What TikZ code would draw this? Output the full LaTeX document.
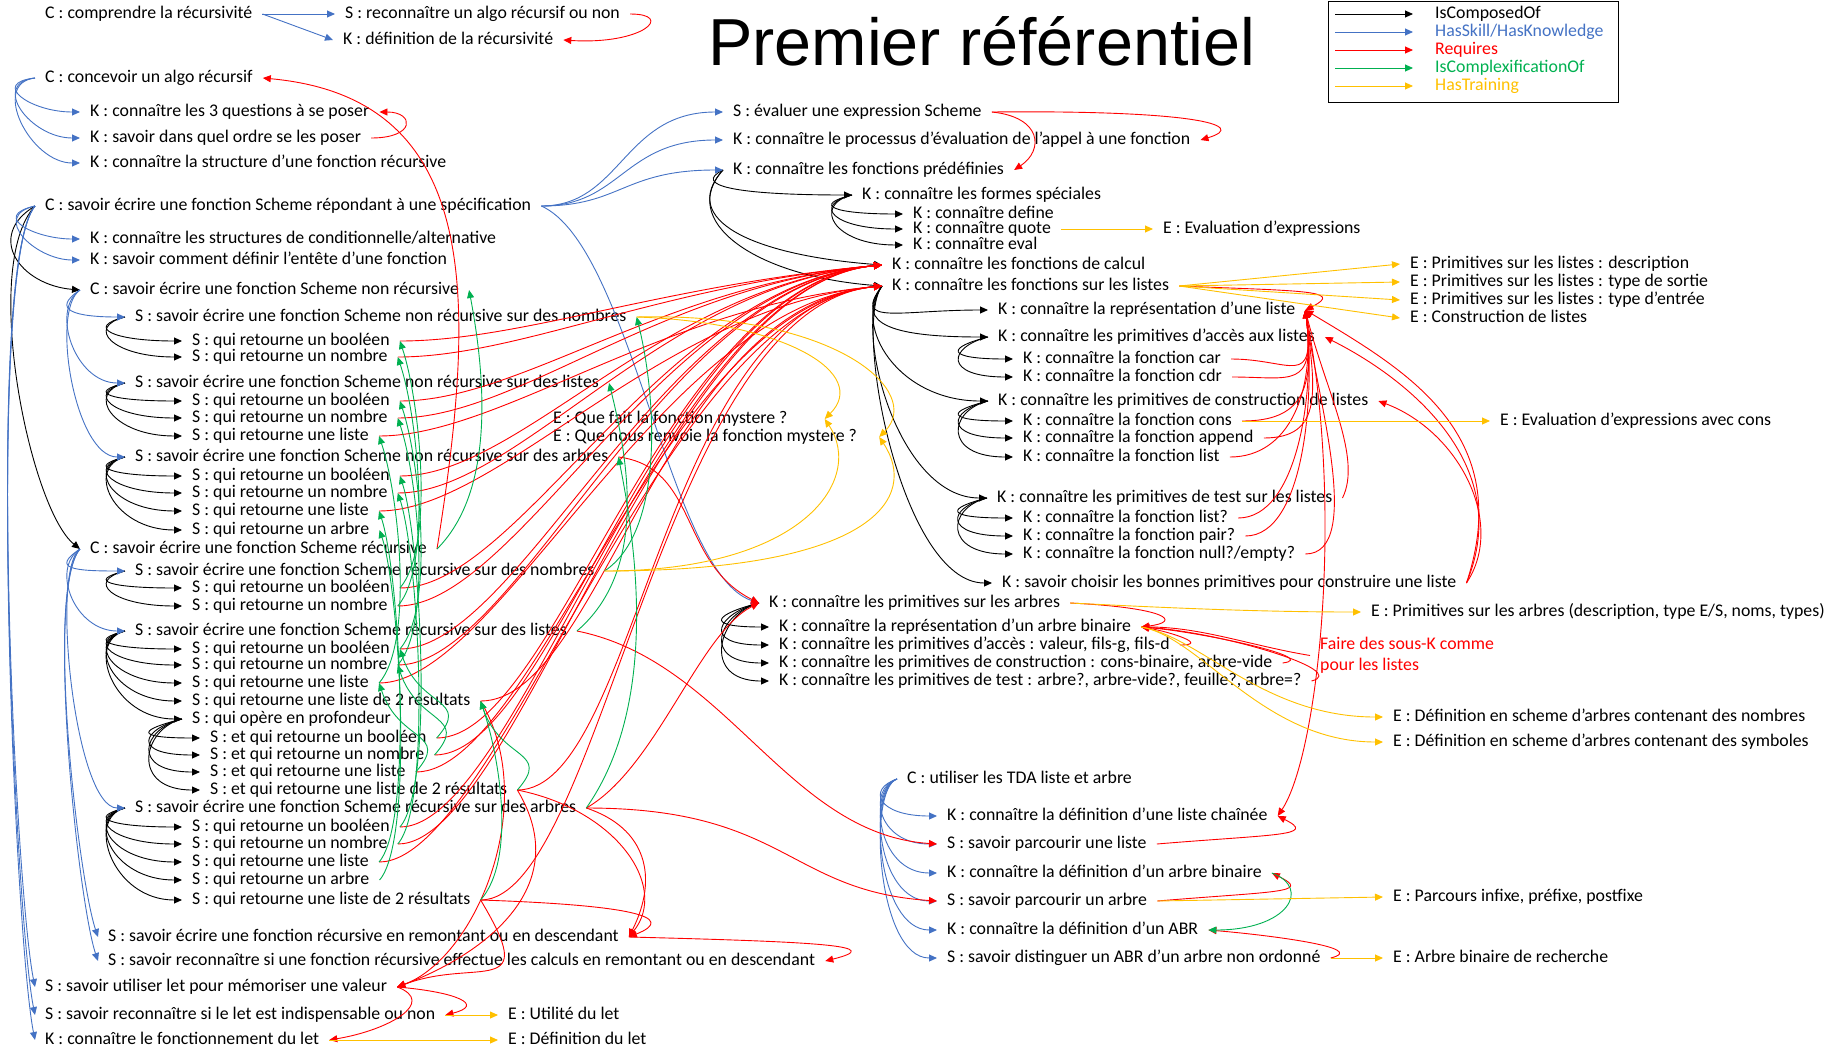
\documentclass[tikz,border=0pt]{standalone}
\usepackage{fontspec}
\setmainfont{Carlito}
\newfontfamily\titlefont{Liberation Sans}
\usepackage{tikz}
\usetikzlibrary{arrows.meta,calc}

\definecolor{skillblue}{RGB}{68,114,196}
\definecolor{reqred}{RGB}{255,0,0}
\definecolor{cplxgreen}{RGB}{0,176,80}
\definecolor{trainorange}{RGB}{255,192,0}

\tikzset{
  lbl/.style={anchor=west, inner xsep=10pt, inner ysep=1pt, text height=12pt, text depth=4pt,
    font=\fontsize{17.8}{21}\selectfont},
  link/.style={line width=0.9pt, -{Triangle[length=8pt,width=7pt]}},
  comp/.style={link, black},
  skill/.style={link, skillblue},
  req/.style={link, reqred},
  cplx/.style={link, cplxgreen},
  train/.style={link, trainorange},
}

\begin{document}
\begin{tikzpicture}[x=1pt, y=1pt]
  \useasboundingbox (0,0) rectangle (1834,-1047);

  \node[anchor=base west, inner sep=0pt, font=\titlefont\fontsize{66.5}{70}\selectfont] (title) at (708,-65) {Premier référentiel};

  % legende
  \draw[line width=0.9pt] (1328,-1) rectangle (1618,-102);
  \draw[comp] (1335,-14) -- (1413,-14);
  \draw[skill] (1335,-32) -- (1413,-32);
  \draw[req] (1335,-50) -- (1413,-50);
  \draw[cplx] (1335,-68) -- (1413,-68);
  \draw[train] (1335,-86) -- (1413,-86);
  \node[lbl, inner xsep=0pt] (legComp) at (1435,-14) {IsComposedOf};
  \node[lbl, inner xsep=0pt, text=skillblue] (legSkill) at (1435,-32) {HasSkill/HasKnowledge};
  \node[lbl, inner xsep=0pt, text=reqred] (legReq) at (1435,-50) {Requires};
  \node[lbl, inner xsep=0pt, text=cplxgreen] (legCplx) at (1435,-68) {IsComplexificationOf};
  \node[lbl, inner xsep=0pt, text=trainorange] (legTrain) at (1435,-86) {HasTraining};

  % colonne de gauche
  \node[lbl] (cComp) at (35,-14) {C : comprendre la récursivité};
  \node[lbl] (sAlgo) at (335,-14) {S : reconnaître un algo récursif ou non};
  \node[lbl] (kDefRec) at (333,-40) {K : définition de la récursivité};
  \node[lbl] (cConc) at (35,-78) {C : concevoir un algo récursif};
  \node[lbl] (k3q) at (80,-112) {K : connaître les 3 questions à se poser};
  \node[lbl] (kOrdre) at (80,-138) {K : savoir dans quel ordre se les poser};
  \node[lbl] (kStruct) at (80,-163) {K : connaître la structure d’une fonction récursive};
  \node[lbl] (cSpec) at (35,-206) {C : savoir écrire une fonction Scheme répondant à une spécification};
  \node[lbl] (kCond) at (80,-239) {K : connaître les structures de conditionnelle/alternative};
  \node[lbl] (kEntete) at (80,-260) {K : savoir comment définir l’entête d’une fonction};
  \node[lbl] (cNonRec) at (80,-290) {C : savoir écrire une fonction Scheme non récursive};
  \node[lbl] (sNR1) at (125,-317) {S : savoir écrire une fonction Scheme non récursive sur des nombres};
  \node[lbl] (sNR1b) at (182,-341) {S : qui retourne un booléen};
  \node[lbl] (sNR1n) at (182,-357) {S : qui retourne un nombre};
  \node[lbl] (sNR2) at (125,-383) {S : savoir écrire une fonction Scheme non récursive sur des listes};
  \node[lbl] (sNR2b) at (182,-401) {S : qui retourne un booléen};
  \node[lbl] (sNR2n) at (182,-418) {S : qui retourne un nombre};
  \node[lbl] (sNR2l) at (182,-436) {S : qui retourne une liste};
  \node[lbl] (sNR3) at (125,-457) {S : savoir écrire une fonction Scheme non récursive sur des arbres};
  \node[lbl] (sNR3b) at (182,-476) {S : qui retourne un booléen};
  \node[lbl] (sNR3n) at (182,-493) {S : qui retourne un nombre};
  \node[lbl] (sNR3l) at (182,-511) {S : qui retourne une liste};
  \node[lbl] (sNR3a) at (182,-530) {S : qui retourne un arbre};
  \node[lbl] (cRec) at (80,-549) {C : savoir écrire une fonction Scheme récursive};
  \node[lbl] (sR1) at (125,-571) {S : savoir écrire une fonction Scheme récursive sur des nombres};
  \node[lbl] (sR1b) at (182,-588) {S : qui retourne un booléen};
  \node[lbl] (sR1n) at (182,-606) {S : qui retourne un nombre};
  \node[lbl] (sR2) at (125,-631) {S : savoir écrire une fonction Scheme récursive sur des listes};
  \node[lbl] (sR2b) at (182,-649) {S : qui retourne un booléen};
  \node[lbl] (sR2n) at (182,-665) {S : qui retourne un nombre};
  \node[lbl] (sR2l) at (182,-683) {S : qui retourne une liste};
  \node[lbl] (sR2d) at (182,-701) {S : qui retourne une liste de 2 résultats};
  \node[lbl] (sR2p) at (182,-719) {S : qui opère en profondeur};
  \node[lbl] (sPb) at (200,-738) {S : et qui retourne un booléen};
  \node[lbl] (sPn) at (200,-755) {S : et qui retourne un nombre};
  \node[lbl] (sPl) at (200,-772) {S : et qui retourne une liste};
  \node[lbl] (sPd) at (200,-790) {S : et qui retourne une liste de 2 résultats};
  \node[lbl] (sR3) at (125,-808) {S : savoir écrire une fonction Scheme récursive sur des arbres};
  \node[lbl] (sR3b) at (182,-827) {S : qui retourne un booléen};
  \node[lbl] (sR3n) at (182,-844) {S : qui retourne un nombre};
  \node[lbl] (sR3l) at (182,-862) {S : qui retourne une liste};
  \node[lbl] (sR3a) at (182,-880) {S : qui retourne un arbre};
  \node[lbl] (sR3d) at (182,-900) {S : qui retourne une liste de 2 résultats};
  \node[lbl] (sRemont) at (98,-937) {S : savoir écrire une fonction récursive en remontant ou en descendant};
  \node[lbl] (sReconn) at (98,-961) {S : savoir reconnaître si une fonction récursive effectue les calculs en remontant ou en descendant};
  \node[lbl] (sLet) at (35,-987) {S : savoir utiliser let pour mémoriser une valeur};
  \node[lbl] (sLetInd) at (35,-1015) {S : savoir reconnaître si le let est indispensable ou non};
  \node[lbl] (kLet) at (35,-1040) {K : connaître le fonctionnement du let};
  \node[lbl] (eLetUt) at (498,-1015) {E : Utilité du let};
  \node[lbl] (eLetDef) at (498,-1040) {E : Définition du let};

  % partie droite
  \node[lbl] (sEval) at (723,-112) {S : évaluer une expression Scheme};
  \node[lbl] (kProc) at (723,-140) {K : connaître le processus d’évaluation de l’appel à une fonction};
  \node[lbl] (kPredef) at (723,-170) {K : connaître les fonctions prédéfinies};
  \node[lbl] (kFormes) at (852,-195) {K : connaître les formes spéciales};
  \node[lbl] (kDefine) at (903,-214) {K : connaître define};
  \node[lbl] (kQuote) at (903,-229) {K : connaître quote};
  \node[lbl] (kEvalf) at (903,-245) {K : connaître eval};
  \node[lbl] (eEval) at (1153,-229) {E : Evaluation d’expressions};
  \node[lbl] (kCalc) at (882,-265) {K : connaître les fonctions de calcul};
  \node[lbl] (kListes) at (882,-286) {K : connaître les fonctions sur les listes};
  \node[lbl] (kRepr) at (988,-310) {K : connaître la représentation d’une liste};
  \node[lbl] (kAcces) at (988,-337) {K : connaître les primitives d’accès aux listes};
  \node[lbl] (kCar) at (1013,-359) {K : connaître la fonction car};
  \node[lbl] (kCdr) at (1013,-377) {K : connaître la fonction cdr};
  \node[lbl] (kConstr) at (988,-401) {K : connaître les primitives de construction de listes};
  \node[lbl] (kCons) at (1013,-421) {K : connaître la fonction cons};
  \node[lbl] (kAppend) at (1013,-438) {K : connaître la fonction append};
  \node[lbl] (kList) at (1013,-457) {K : connaître la fonction list};
  \node[lbl] (kTest) at (987,-498) {K : connaître les primitives de test sur les listes};
  \node[lbl] (kListp) at (1013,-518) {K : connaître la fonction list?};
  \node[lbl] (kPairp) at (1013,-536) {K : connaître la fonction pair?};
  \node[lbl] (kNullp) at (1013,-554) {K : connaître la fonction null?/empty?};
  \node[lbl] (kChoisir) at (992,-583) {K : savoir choisir les bonnes primitives pour construire une liste};
  \node[lbl] (ePrimDesc) at (1400,-264) {E : Primitives sur les listes : description};
  \node[lbl] (ePrimSort) at (1400,-282) {E : Primitives sur les listes : type de sortie};
  \node[lbl] (ePrimEnt) at (1400,-300) {E : Primitives sur les listes : type d’entrée};
  \node[lbl] (eConstr) at (1400,-318) {E : Construction de listes};
  \node[lbl] (eCons) at (1490,-421) {E : Evaluation d’expressions avec cons};
  \node[lbl] (eMyst1) at (543,-419) {E : Que fait la fonction mystere ?};
  \node[lbl] (eMyst2) at (543,-437) {E : Que nous renvoie la fonction mystere ?};
  \node[lbl] (kArb) at (759,-603) {K : connaître les primitives sur les arbres};
  \node[lbl] (kArbRepr) at (769,-627) {K : connaître la représentation d’un arbre binaire};
  \node[lbl] (kArbAcc) at (769,-645) {K : connaître les primitives d’accès : valeur, fils-g, fils-d};
  \node[lbl] (kArbCons) at (769,-663) {K : connaître les primitives de construction : cons-binaire, arbre-vide};
  \node[lbl] (kArbTest) at (769,-681) {K : connaître les primitives de test : arbre?, arbre-vide?, feuille?, arbre=?};
  \node[lbl] (eArb) at (1361,-612) {E : Primitives sur les arbres (description, type E/S, noms, types)};
  \node[anchor=west, inner xsep=10pt, align=left, text=reqred, font=\fontsize{17.8}{21}\selectfont] (note) at (1310,-655.5) {Faire des sous-K comme\\pour les listes};
  \node[lbl] (eArbNb) at (1383,-717) {E : Définition en scheme d’arbres contenant des nombres};
  \node[lbl] (eArbSym) at (1383,-742) {E : Définition en scheme d’arbres contenant des symboles};
  \node[lbl] (cTDA) at (897,-779) {C : utiliser les TDA liste et arbre};
  \node[lbl] (kDefListe) at (937,-816) {K : connaître la définition d’une liste chaînée};
  \node[lbl] (sParcListe) at (937,-844) {S : savoir parcourir une liste};
  \node[lbl] (kDefArbre) at (937,-873) {K : connaître la définition d’un arbre binaire};
  \node[lbl] (sParcArbre) at (937,-901) {S : savoir parcourir un arbre};
  \node[lbl] (kABR) at (937,-930) {K : connaître la définition d’un ABR};
  \node[lbl] (sDist) at (937,-958) {S : savoir distinguer un ABR d’un arbre non ordonné};
  \node[lbl] (eParcours) at (1383,-897) {E : Parcours infixe, préfixe, postfixe};
  \node[lbl] (eABR) at (1383,-958) {E : Arbre binaire de recherche};

  % IsComposedOf
  \draw[comp] (cSpec.west) .. controls +(-50,-30) and +(-60,5) .. (cNonRec.west);
  \draw[comp] (cSpec.west) .. controls +(-55,-60) and +(-50,40) .. (cRec.west);
  \draw[comp] (kPredef.west) .. controls +(-30,-15) and +(-120,0) .. (kFormes.west);
  \foreach \t in {kCalc,kListes}
    \draw[comp] (kPredef.west) .. controls +(-45,-50) and +(-130,10) .. (\t.west);
  \foreach \t in {kRepr,kAcces,kConstr,kTest,kChoisir}
    \draw[comp] (kListes.west) .. controls +(-30,-40) and +(-90,0) .. (\t.west);
  \foreach \h/\t in {sNR1/sNR1b,sNR1/sNR1n,sNR2/sNR2b,sNR2/sNR2n,sNR2/sNR2l,
      sNR3/sNR3b,sNR3/sNR3n,sNR3/sNR3l,sNR3/sNR3a,sR1/sR1b,sR1/sR1n,
      sR2/sR2b,sR2/sR2n,sR2/sR2l,sR2/sR2d,sR2/sR2p,sR2p/sPb,sR2p/sPn,sR2p/sPl,sR2p/sPd,
      sR3/sR3b,sR3/sR3n,sR3/sR3l,sR3/sR3a,sR3/sR3d,kFormes/kDefine,kFormes/kQuote,kFormes/kEvalf,
      kAcces/kCar,kAcces/kCdr,kConstr/kCons,kConstr/kAppend,kConstr/kList,
      kTest/kListp,kTest/kPairp,kTest/kNullp,kArb/kArbRepr,kArb/kArbAcc,kArb/kArbCons,kArb/kArbTest}
    \draw[comp] (\h.west) .. controls +(-40,-10) and +(-70,0) .. (\t.west);

  % HasSkill/HasKnowledge
  \draw[skill] (cComp.east) -- (sAlgo.west);
  \draw[skill] (cComp.east) -- (kDefRec.west);
  \foreach \t in {k3q,kOrdre,kStruct}
    \draw[skill] (cConc.west) .. controls +(-45,-5) and +(-50,0) .. (\t.west);
  \foreach \t in {kCond,kEntete}
    \draw[skill] (cSpec.west) .. controls +(-45,-10) and +(-45,0) .. (\t.west);
  \foreach \t in {sLet,sLetInd,kLet}
    \draw[skill] (cSpec.west) .. controls +(-50,-60) and +(-20,100) .. (\t.west);
  \foreach \t in {sNR1,sNR2,sNR3}
    \draw[skill] (cNonRec.west) .. controls +(-30,-20) and +(-50,0) .. (\t.west);
  \foreach \t in {sR1,sR2,sR3}
    \draw[skill] (cRec.west) .. controls +(-30,-20) and +(-50,0) .. (\t.west);
  \foreach \t in {sRemont,sReconn}
    \draw[skill] (cRec.west) .. controls +(-35,-40) and +(-20,60) .. (\t.west);
  \foreach \t in {sEval,kProc,kPredef}
    \draw[skill] (cSpec.east) .. controls +(80,0) and +(-100,0) .. (\t.west);
  \draw[skill] (cSpec.east) .. controls +(90,-40) and +(-90,30) .. (kArb.west);
  \foreach \t in {kDefListe,sParcListe,kDefArbre,sParcArbre,kABR,sDist}
    \draw[skill] (cTDA.west) .. controls +(-30,-10) and +(-60,0) .. (\t.west);

  % Requires
  \draw[req] (sAlgo.east) .. controls +(45,0) and +(80,-5) .. (kDefRec.east);
  \draw[req] (kOrdre.east) .. controls +(45,0) and +(35,0) .. (k3q.east);
  \draw[req] (cRec.east) .. controls +(40,250) and +(220,-20) .. (cConc.east);
  \draw[req] (sEval.east) .. controls +(200,2) and +(50,15) .. (kProc.east);
  \draw[req] (sEval.east) .. controls +(50,-5) and +(30,20) .. (kPredef.east);
  \foreach \s in {sNR1b,sNR1n,sNR2b,sNR2n,sNR3b,sNR3n,sR1b,sR1n,sR2b,sR2n,sR3b,sR3n,sPb,sPn}
    \draw[req] (\s.east) .. controls +(120,0) and +(-220,-20) .. (kCalc.west);
  \foreach \s in {sNR2l,sNR3l,sR2l,sR2d,sPl,sPd,sR3l,sR3d}
    \draw[req] (\s.east) .. controls +(120,0) and +(-220,-20) .. (kListes.west);
  \foreach \s in {sR2d,sPd,sR3d}
    \draw[req] (\s.east) .. controls +(60,-100) and +(80,30) .. (sLet.east);
  \draw[req] (sPd.east) .. controls +(100,-20) and +(40,50) .. (sRemont.east);
  \draw[req] (sR3.east) .. controls +(60,-20) and +(30,60) .. (sRemont.east);
  \draw[req] (sR3d.east) .. controls +(150,-5) and +(50,20) .. (sRemont.east);
  \draw[req] (sRemont.east) .. controls +(200,-5) and +(60,15) .. (sReconn.east);
  \draw[req] (sLet.east) .. controls +(60,-5) and +(40,10) .. (sLetInd.east);
  \draw[req] (sLet.east) .. controls +(40,-15) and +(60,10) .. (kLet.east);
  \draw[req] (sR2.east) .. controls +(150,-30) and +(-150,10) .. (sParcListe.west);
  \draw[req] (sR3.east) .. controls +(200,0) and +(-150,10) .. (sParcArbre.west);
  \draw[req] (sR3.east) .. controls +(70,40) and +(-60,-30) .. (kArb.west);
  \draw[req] (sNR3.east) .. controls +(80,-10) and +(-80,40) .. (kArb.west);
  \foreach \s in {kCar,kCdr,kCons,kAppend,kList,kListp,kPairp,kNullp}
    \draw[req] (\s.east) .. controls +(60,0) and +(10,-80) .. (kRepr.east);
  \draw[req] (kTest.east) .. controls +(20,40) and +(20,-80) .. (kRepr.east);
  \draw[req] (kChoisir.east) .. controls +(40,60) and +(80,-30) .. (kConstr.east);
  \draw[req] (kChoisir.east) .. controls +(50,120) and +(80,-40) .. (kAcces.east);
  \draw[req] (kChoisir.east) .. controls +(50,150) and +(100,-60) .. (kRepr.east);
  \draw[req] (kListes.east) .. controls +(120,-5) and +(40,20) .. (kRepr.east);
  \draw[req] (kRepr.east) .. controls +(40,-200) and +(40,60) .. (kDefListe.east);
  \draw[req] (sParcListe.east) .. controls +(120,10) and +(40,-20) .. (kDefListe.east);
  \draw[req] (sParcArbre.east) .. controls +(120,10) and +(40,-20) .. (kDefArbre.east);
  \draw[req] (sDist.east) .. controls +(40,10) and +(60,-5) .. (kABR.east);
  \draw[req] (kArb.east) .. controls +(100,-5) and +(40,5) .. (kArbRepr.east);
  \draw[req] (kArbAcc.east) .. controls +(30,0) and +(30,-5) .. (kArbRepr.east);
  \draw[req] (kArbCons.east) .. controls +(40,5) and +(60,-5) .. (kArbRepr.east);
  \draw[req] (kArbTest.east) .. controls +(40,10) and +(80,-5) .. (kArbRepr.east);
  \draw[req] (note.west) .. controls +(-60,10) and +(60,0) .. (kArbRepr.east);

  % IsComplexificationOf
  \draw[cplx] (cRec.east) .. controls +(60,60) and +(15,-80) .. (cNonRec.east);
  \draw[cplx] (sR1.east) .. controls +(60,40) and +(20,-80) .. (sNR1.east);
  \draw[cplx] (sR2.east) .. controls +(70,60) and +(20,-80) .. (sNR2.east);
  \draw[cplx] (sR3.east) .. controls +(70,100) and +(20,-100) .. (sNR3.east);
  \foreach \a/\b in {sR1b/sNR1b,sR1n/sNR1n,sR2b/sNR2b,sR2n/sNR2n,sR2l/sNR2l,
      sR3b/sNR3b,sR3n/sNR3n,sR3l/sNR3l,sR3a/sNR3a,sPb/sR2b,sPn/sR2n,sPl/sR2l,sPd/sR2d,sR3d/sR2d}
    \draw[cplx] (\a.east) .. controls +(35,40) and +(20,-60) .. (\b.east);
  \draw[cplx] (kDefArbre.east) .. controls +(40,-15) and +(80,0) .. (kABR.east);

  % HasTraining
  \draw[train] (kQuote.east) -- (eEval.west);
  \foreach \t in {ePrimDesc,ePrimSort,ePrimEnt,eConstr}
    \draw[train] (kListes.east) -- (\t.west);
  \draw[train] (kCons.east) -- (eCons.west);
  \draw[train] (sNR1.east) .. controls +(150,-5) and +(45,45) .. ($(eMyst1.east)+(27,0)$);
  \draw[train] (sR1.east) .. controls +(200,0) and +(40,-60) .. ($(eMyst1.east)+(27,0)$);
  \draw[train] (sNR1.east) .. controls +(200,5) and +(45,45) .. ($(eMyst2.east)+(12,0)$);
  \draw[train] (sR1.east) .. controls +(270,0) and +(40,-60) .. ($(eMyst2.east)+(12,0)$);
  \draw[train] (kArb.east) .. controls +(100,-5) and +(-100,0) .. (eArb.west);
  \foreach \t in {eArbNb,eArbSym}
    \draw[train] (kArbRepr.east) .. controls +(60,-10) and +(-120,0) .. (\t.west);
  \draw[train] (sParcArbre.east) -- (eParcours.west);
  \draw[train] (sDist.east) -- (eABR.west);
  \draw[train] (sLetInd.east) -- (eLetUt.west);
  \draw[train] (kLet.east) -- (eLetDef.west);
\end{tikzpicture}
\end{document}
